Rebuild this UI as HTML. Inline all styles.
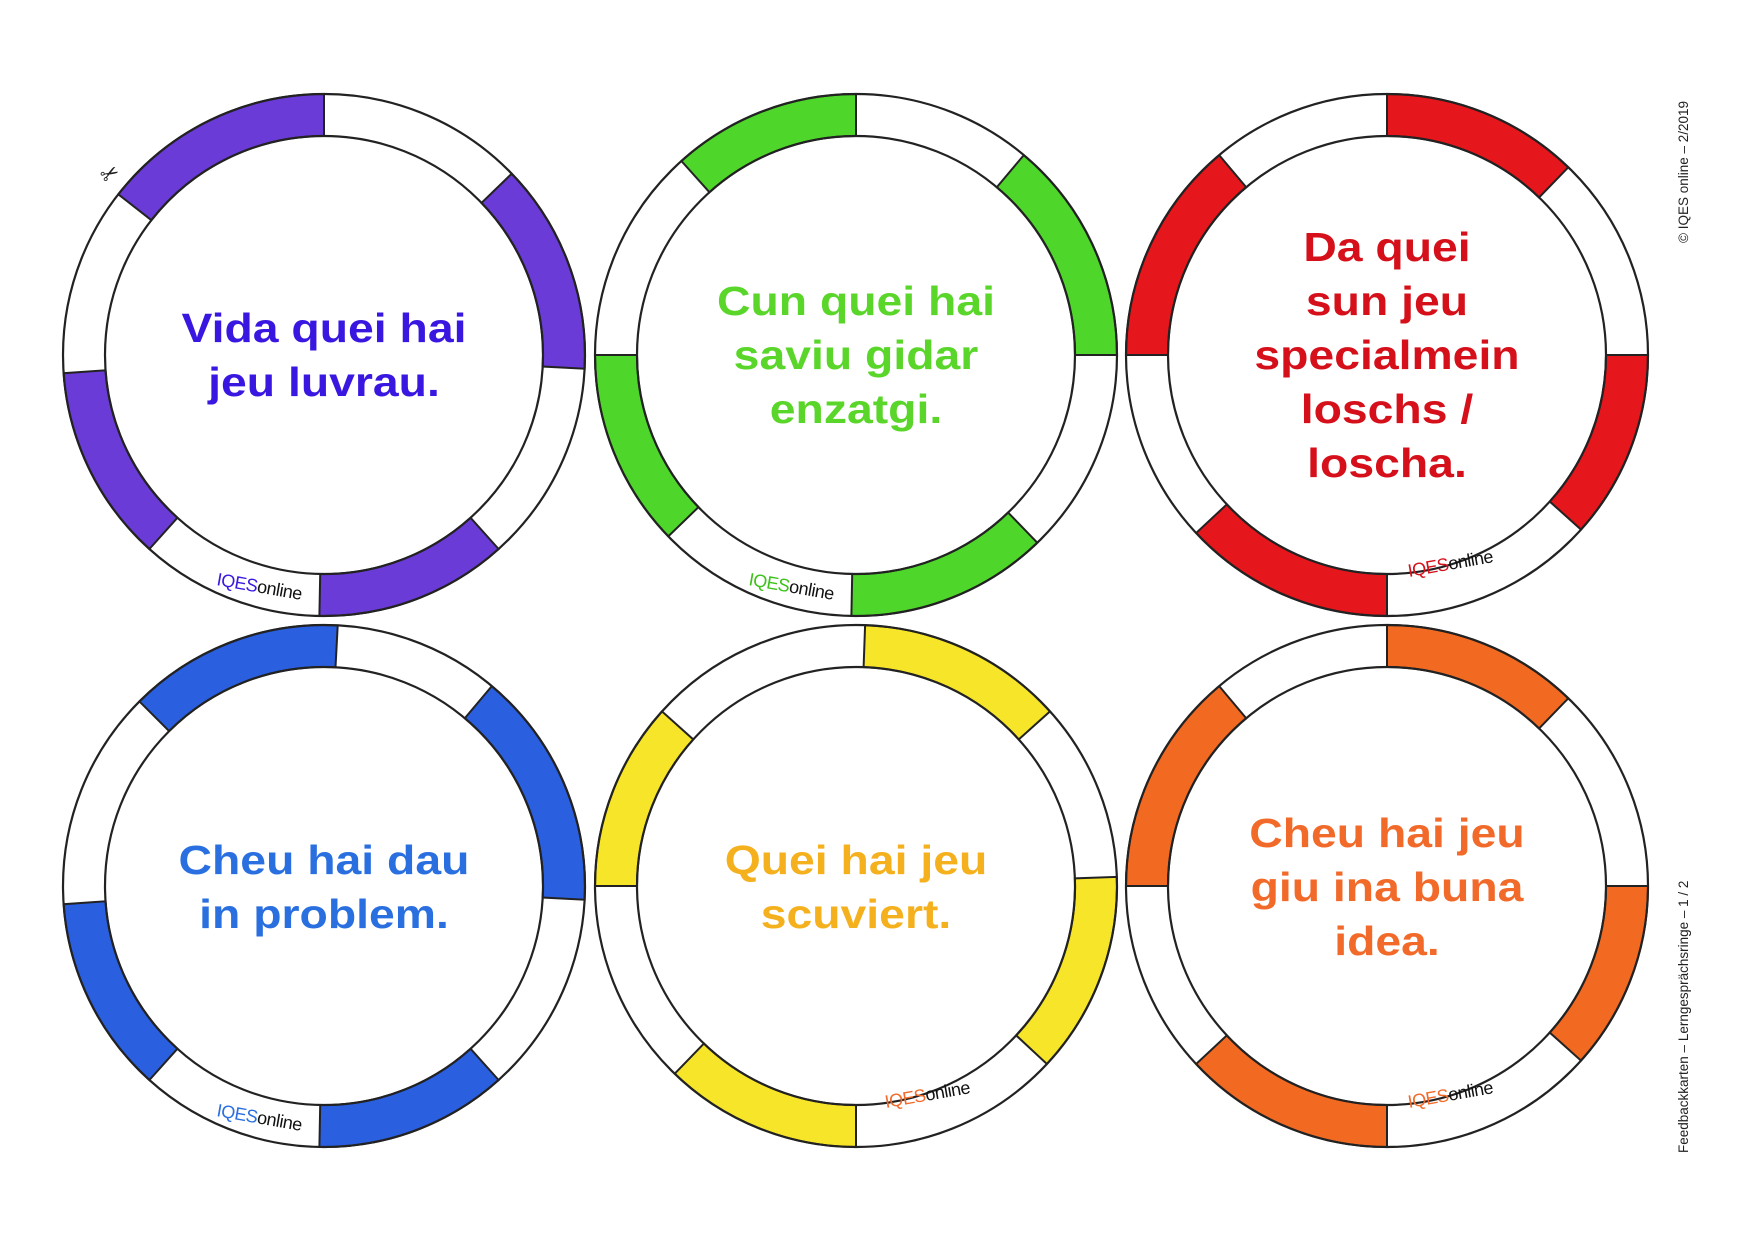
<!DOCTYPE html>
<html><head><meta charset="utf-8">
<style>
html,body{margin:0;padding:0;background:#fff;}
body{width:1754px;height:1240px;position:relative;overflow:hidden;font-family:"Liberation Sans",sans-serif;}
.t{position:absolute;width:400px;text-align:center;font-weight:bold;font-size:41px;line-height:54px;transform:scaleX(1.13);transform-origin:center;}
.side{position:absolute;font-size:13.5px;color:#222;transform:rotate(-90deg);transform-origin:left top;white-space:nowrap;}
</style></head><body>
<svg id="s" width="1754" height="1240" style="position:absolute;left:0;top:0"></svg>
<div class="t" style="left:124px;top:301px;color:#3a17e0">Vida quei hai<br>jeu luvrau.</div>
<div class="t" style="left:656px;top:274px;color:#5ad62a">Cun quei hai<br>saviu gidar<br>enzatgi.</div>
<div class="t" style="left:1187px;top:220px;color:#d5101a">Da quei<br>sun jeu<br>specialmein<br>loschs /<br>loscha.</div>
<div class="t" style="left:124px;top:833px;color:#2a6fe0">Cheu hai dau<br>in problem.</div>
<div class="t" style="left:656px;top:833px;color:#f5b01e">Quei hai jeu<br>scuviert.</div>
<div class="t" style="left:1187px;top:806px;color:#f26a2a">Cheu hai jeu<br>giu ina buna<br>idea.</div>
<div class="side" style="left:1676px;top:243px">© IQES online – 2/2019</div>
<div class="side" style="left:1676px;top:1153px">Feedbackkarten – Lerngesprächsringe – 1 / 2</div>
<script>
var s=document.getElementById('s'),h='';
var R=261,r=219;
var C=[
[324,355,'#6a3bd6','#3a17e0',[[-52,0],[46,93],[138,181],[222,266]],'right'],
[856,355,'#4fd62a','#3cc21a',[[-42,0],[40,90],[136,181],[226,270]],'right'],
[1387,355,'#e5161c','#d5101a',[[0,44],[90,132],[180,227],[270,320]],'left'],
[324,886,'#2a5fe0','#2a6fe0',[[-45,3],[40,93],[138,181],[222,266]],'right'],
[856,886,'#f7e52a','#f26a2a',[[2,48],[88,133],[180,224],[270,312]],'left'],
[1387,886,'#f26a22','#f26a2a',[[0,44],[90,132],[180,227],[270,320]],'left']];
function p(cx,cy,rad,a){a=(a-90)*Math.PI/180;return (cx+rad*Math.cos(a)).toFixed(1)+','+(cy+rad*Math.sin(a)).toFixed(1);}
C.forEach(function(c,i){
 var cx=c[0],cy=c[1];
 c[4].forEach(function(g){
  var a=g[0],b=g[1];
  h+='<path d="M'+p(cx,cy,R,a)+' A'+R+','+R+' 0 0 1 '+p(cx,cy,R,b)+' L'+p(cx,cy,r,b)+' A'+r+','+r+' 0 0 0 '+p(cx,cy,r,a)+' Z" fill="'+c[2]+'" stroke="#222" stroke-width="2"/>';
 });
 h+='<circle cx="'+cx+'" cy="'+cy+'" r="'+R+'" fill="none" stroke="#222" stroke-width="2.2"/>';
 h+='<circle cx="'+cx+'" cy="'+cy+'" r="'+r+'" fill="none" stroke="#222" stroke-width="2.2"/>';
 var lx=c[5]=='right'?cx-108:cx+(i==4?30:22);
 var ly=c[5]=='right'?cy+230:cy+222;
 var rot=c[5]=='right'?10:-10;
 h+='<text x="'+lx+'" y="'+ly+'" font-family="Liberation Sans,sans-serif" font-size="18" letter-spacing="-0.5" transform="rotate('+rot+' '+lx+' '+ly+')"><tspan fill="'+c[3]+'">IQES</tspan><tspan fill="#111">online</tspan></text>';
});
h+='<text x="100" y="180" font-size="22" fill="#222" transform="rotate(-30 112 172)">✂</text>';
s.innerHTML=h;
</script>
</body></html>
